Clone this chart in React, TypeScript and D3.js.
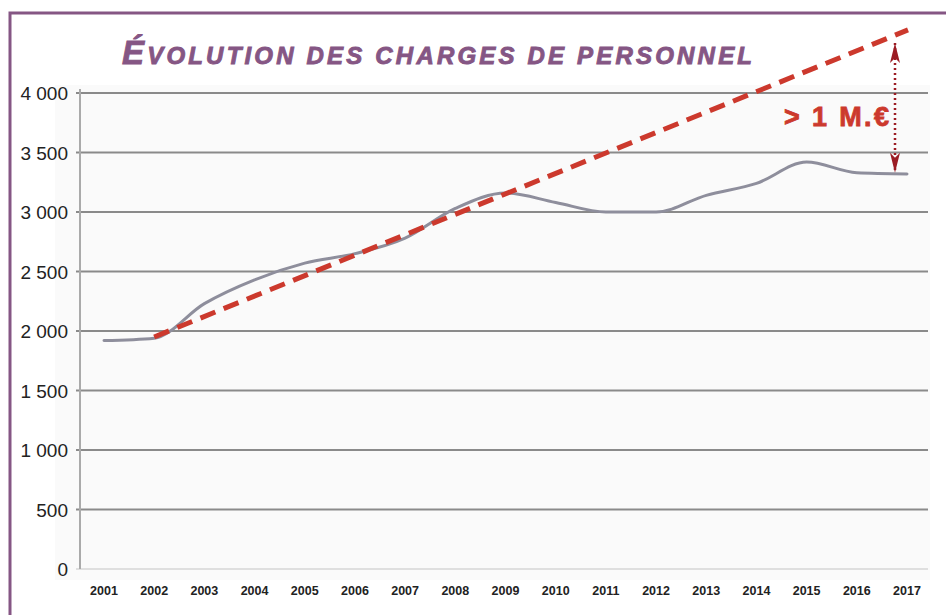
import React from "react";
import * as d3 from "d3";

const years = [2001, 2002, 2003, 2004, 2005, 2006, 2007, 2008, 2009, 2010, 2011, 2012, 2013, 2014, 2015, 2016, 2017];
const charges = [1920, 1940, 2230, 2430, 2570, 2650, 2780, 3030, 3160, 3080, 3000, 3000, 3140, 3240, 3420, 3330, 3320];
const trendYears = [2002, 2017];
const trendValues = [1950, 4530];
const yTicks = [0, 500, 1000, 1500, 2000, 2500, 3000, 3500, 4000];
const gapRange = [3330, 4420];
const gapLabel = "> 1 M.€";
const title = "ÉVOLUTION DES CHARGES DE PERSONNEL";

const W = 946, H = 615;
const purple = "#855684";
const red = "#cc392d";
const darkRed = "#9b1c24";

const fmt = d3.formatLocale({ decimal: ",", thousands: "\u00a0", grouping: [3], currency: ["", "€"] }).format(",d");

const App = () => {
  const x = d3.scalePoint<number>().domain(years).range([104, 907]);
  const y = d3.scaleLinear().domain([0, 4000]).range([569, 93]);

  const line = d3.line<number>()
    .x((d, i) => x(years[i]) as number)
    .y(d => y(d))
    .curve(d3.curveMonotoneX);

  const trendLine = d3.line<number>()
    .x((d, i) => (x(trendYears[i]) as number) + (i === 1 ? 1 : 0))
    .y(d => y(d));

  const ax = (x(2017) as number) - 12;
  const gTop = y(gapRange[1]);
  const gBot = y(gapRange[0]);

  return (
    <svg width={W} height={H} style={{ position: "absolute", left: 0, top: 0, background: "#fff" }}>
      <defs>
        <marker id="ah" viewBox="0 0 20 10" refX="20" refY="5" markerWidth="20" markerHeight="10" orient="auto-start-reverse" markerUnits="userSpaceOnUse">
          <path d="M20,5 L0,0 L5,5 L0,10 Z" fill={darkRed} />
        </marker>
      </defs>
      {/* frame */}
      <path d={`M10,${H} V13 H${W}`} fill="none" stroke={purple} strokeWidth={3} />
      {/* faint plot background */}
      <rect x={55} y={85} width={875} height={495} fill="#fafafa" />

      {/* gridlines + y labels */}
      {yTicks.map(t => (
        <g key={t}>
          <line x1={76} x2={928} y1={y(t)} y2={y(t)} stroke={t === 0 ? "#d6d6d6" : "#8a8a8a"} strokeWidth={t === 0 ? 1.5 : 2} />
          <text x={68} y={y(t) + 7} textAnchor="end" fontFamily="Liberation Sans, Arial, sans-serif" fontSize={19} fill="#222">{fmt(t)}</text>
        </g>
      ))}
      <line x1={80} x2={80} y1={y(4000) - 4} y2={y(0)} stroke="#aaa" strokeWidth={2} />

      {/* x labels */}
      {years.map(yr => (
        <text key={yr} x={x(yr)} y={595} textAnchor="middle" fontFamily="Liberation Sans, Arial, sans-serif" fontWeight="bold" fontSize={12.5} fill="#222">{yr}</text>
      ))}

      {/* actual series */}
      <path d={line(charges) || ""} fill="none" stroke="#8e8e9c" strokeWidth={3} strokeLinejoin="round" strokeLinecap="round" />

      {/* trend */}
      <path d={trendLine(trendValues) || ""} fill="none" stroke={red} strokeWidth={5} strokeDasharray="16 9" />

      {/* gap annotation */}
      <line x1={ax} x2={ax} y1={gTop} y2={gBot} stroke={darkRed} strokeWidth={2.5} strokeDasharray="2 3" markerStart="url(#ah)" markerEnd="url(#ah)" />
      <text x={ax - 111} y={y(3720)} fontFamily="Liberation Sans, Arial, sans-serif" fontWeight="bold" fontSize={27} fill={red} stroke={red} strokeWidth={0.8} textLength={105} lengthAdjust="spacing">{gapLabel}</text>

      {/* title */}
      <text x={122} y={64} fontFamily="Liberation Sans, Arial, sans-serif" fontWeight="bold" fontStyle="italic" fill={purple} stroke={purple} strokeWidth={0.9} textLength={630} lengthAdjust="spacing">
        <tspan fontSize={33}>{title[0]}</tspan>
        <tspan fontSize={24}>{title.slice(1)}</tspan>
      </text>
    </svg>
  );
};

export default App;
